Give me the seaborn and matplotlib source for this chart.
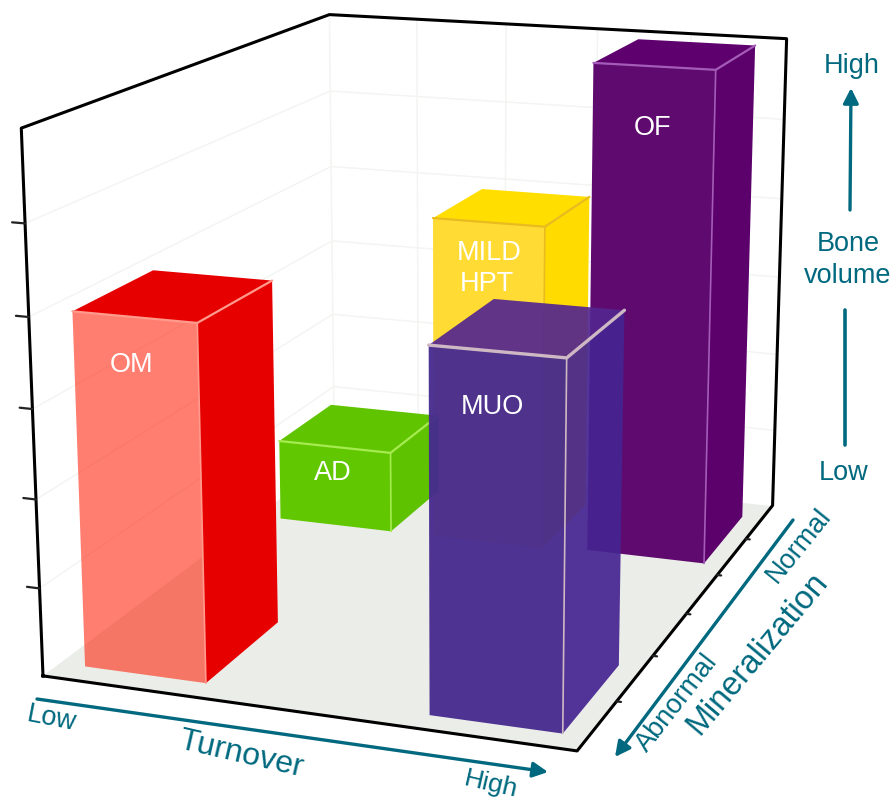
import matplotlib
matplotlib.use("Agg")
import matplotlib.pyplot as plt
import seaborn as sns

sns.set_theme(style="white")
plt.rcParams["font.family"] = ["Liberation Sans", "DejaVu Sans"]

# Bone-disease categories placed by turnover, mineralization and bone volume
names = ["MILD HPT", "OF", "AD", "OM", "MUO"]
turnover_low = [0.392, 0.715, 0.053, 0.05, 0.714]
turnover_high = [0.626, 0.958, 0.30, 0.289, 0.955]
mineral_low = [0.693, 0.708, 0.69, 0.048, 0.045]
mineral_high = [0.907, 0.932, 0.895, 0.282, 0.286]
bone_volume = [0.67, 0.998, 0.17, 0.665, 0.665]

# Face colours per bar: front, right side, top
front_colors = [(1.0, 0.86, 0.2, 1.0), (0.37, 0.04, 0.43, 1.0), (0.38, 0.78, 0.0, 1.0),
                (1.0, 0.1, 0.0, 0.56), (0.28, 0.17, 0.56, 0.96)]
side_colors = [(1.0, 0.86, 0.0, 1.0), (0.36, 0.0, 0.42, 1.0), (0.37, 0.76, 0.0, 1.0),
               (0.9, 0.0, 0.0, 1.0), (0.27, 0.14, 0.57, 0.92)]
top_colors = [(1.0, 0.87, 0.0, 1.0), (0.37, 0.0, 0.43, 1.0), (0.38, 0.77, 0.0, 1.0),
              (0.9, 0.0, 0.0, 1.0), (0.33, 0.15, 0.56, 0.92)]
edge_colors = ["#E8BC20", "#A45CB8", "#A6EC50", "#FF9A8C", "#CDB8C4"]
CLEAR = (1, 1, 1, 0)

TEAL = "#00697F"

fig = plt.figure(figsize=(8.95, 8.02), dpi=100, facecolor="white")

# 3D frame, sized and placed so the cube fills the canvas
ax = fig.add_axes([-79.54 / 895, -52.95 / 802, 1007.83 / 895, 1007.83 / 802],
                  projection="3d", computed_zorder=False)
ax.set_xlim(0, 1, view_margin=0)
ax.set_ylim(0, 1, view_margin=0)
ax.set_zlim(0, 1, view_margin=0)
ax.view_init(14.8639, -69.9946, 0.0902)
ax.set_proj_type("persp", focal_length=0.5229)
ax.set_box_aspect((1, 1.3918, 0.9949), zoom=1)
ax.patch.set_alpha(0)
ax.grid(False)
for axis in (ax.xaxis, ax.yaxis, ax.zaxis):
    axis.line.set_color((1, 1, 1, 0))
    axis.set_ticks([])
ax.xaxis.set_pane_color((1, 1, 1, 1))
ax.yaxis.set_pane_color((1, 1, 1, 1))
ax.zaxis.set_pane_color("#EBEDE9")
for axis in (ax.xaxis, ax.yaxis, ax.zaxis):
    axis.pane.set_edgecolor((1, 1, 1, 0))

# Faint wall gridlines
wall_grid = "#F3F5F2"
levels = [i / 6 for i in range(1, 7)]
for z in levels:
    ax.plot([0, 0, 1], [0, 1, 1], [z, z, z], color=wall_grid, lw=1.1, zorder=1)
for x in [0.0, 0.2, 0.4, 0.6, 0.8]:
    ax.plot([x, x], [1, 1], [0, 1], color=wall_grid, lw=1.1, zorder=1)

# Black frame and tick marks
frame = dict(color="black", lw=2.2, zorder=2, solid_capstyle="projecting")
ax.plot([0, 1, 1, 1, 0, 0, 0], [0, 0, 1, 1, 1, 0, 0], [0, 0, 0, 1, 1, 1, 0], **frame)
for z in levels[:-1]:
    ax.plot([0, -0.025], [0, 0], [z, z], color="#222222", lw=1.6, zorder=2)
for y in levels[:-1]:
    ax.plot([1, 1.008], [y, y], [0, 0], color="#222222", lw=1.6, zorder=2)

# Bars, back to front; faces run bottom, top, front, back, left, right
for i, name in enumerate(names):
    x0, x1 = turnover_low[i], turnover_high[i]
    y0, y1 = mineral_low[i], mineral_high[i]
    h = bone_volume[i]
    faces = [CLEAR, top_colors[i], front_colors[i], CLEAR, CLEAR, side_colors[i]]
    ax.bar3d(x0, y0, 0, x1 - x0, y1 - y0, h, color=faces, shade=False,
             edgecolor=(1, 1, 1, 0), linewidth=0, zorder=10 + 2 * i, zsort="max")
    lw = 2.4 if name == "MUO" else 1.6
    ax.plot([x0, x1, x1], [y0, y0, y1], [h, h, h], color=edge_colors[i], lw=lw, zorder=11 + 2 * i)
    ax.plot([x1, x1], [y0, y0], [0, h], color=edge_colors[i], lw=1.2, zorder=11 + 2 * i)

# Annotation layer in image pixels
over = fig.add_axes([0, 0, 1, 1], zorder=5)
over.set_xlim(0, 895)
over.set_ylim(802, 0)
over.axis("off")
over.patch.set_alpha(0)

bar_labels = [("OM", 132, 365), ("AD", 333, 473), ("MILD", 489, 253), ("HPT", 487, 284),
              ("MUO", 492, 407), ("OF", 653, 128)]
for label, px, py in bar_labels:
    over.text(px, py, label, color="white", fontsize=19.5, ha="center", va="center")

axis_labels = [("High", 852, 66, 0, 19.5), ("Bone", 848, 244, 0, 19.5), ("volume", 848, 276, 0, 19.5),
               ("Low", 844, 473, 0, 19.5), ("Low", 52, 719, -11, 19.5), ("Turnover", 241, 755, -13, 23),
               ("High", 491, 784, -13, 19), ("Normal", 799, 546, 51, 19.5),
               ("Abnormal", 677, 703, 52, 19.5), ("Mineralization", 757, 654, 50, 23.5)]
for label, px, py, rot, size in axis_labels:
    over.text(px, py, label, color=TEAL, fontsize=size, ha="center", va="center",
              rotation=rot, rotation_mode="anchor")

arrow = dict(arrowstyle="-|>,head_width=0.38,head_length=0.75", color=TEAL, lw=2.4, shrinkA=0, shrinkB=0)
over.annotate("", xy=(548, 772), xytext=(37, 699), arrowprops=arrow)
over.annotate("", xy=(615, 757), xytext=(793, 520), arrowprops=arrow)
over.annotate("", xy=(851, 88), xytext=(850, 210), arrowprops=arrow)
over.plot([845, 845], [310, 445], color=TEAL, lw=2.6)

fig.savefig("out.png", dpi=100)
